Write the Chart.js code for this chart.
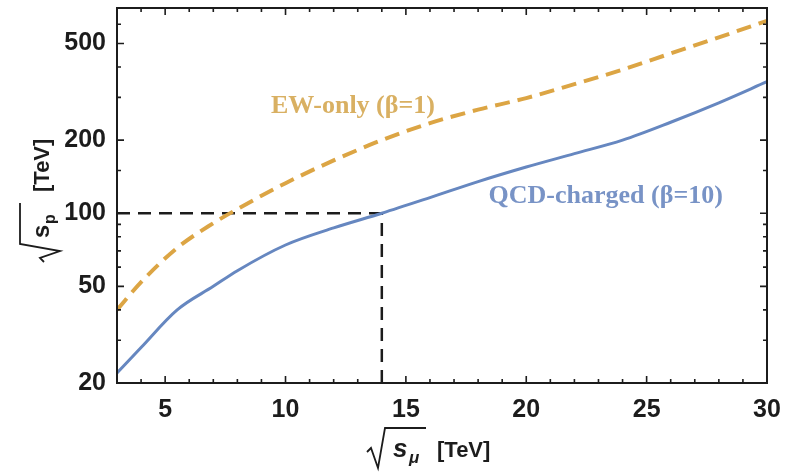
<!DOCTYPE html>
<html>
<head>
<meta charset="utf-8">
<script src="https://cdn.jsdelivr.net/npm/chart.js@4.4.1/dist/chart.umd.min.js"></script>
<style>
  html, body { margin: 0; padding: 0; background: #fff; }
  #wrap { width: 795px; height: 476px; position: relative; }
</style>
</head>
<body>
<div id="wrap"><canvas id="chart"></canvas></div>
<script>
// sqrt(s_p) needed vs sqrt(s_mu) — two curves on a log axis

// ---------- data ----------
const EW_X  = [3, 4, 5.5, 7, 8, 10, 12, 14, 16, 18, 20, 22, 24, 26, 28, 30];
const EW_Y  = [40, 52, 72, 91, 104, 133, 165, 200, 235, 267, 298, 340, 390, 455, 530, 620];

const QCD_X = [3, 4, 5.5, 7, 8, 10, 12, 14, 16, 18, 20, 22, 24, 26, 28, 30];
const QCD_Y = [22, 28, 40, 50, 58, 74, 87, 100, 116, 135, 155, 176, 200, 237, 285, 348];

// the 14 TeV / 100 TeV guide lines
const REF_X = 14;
const REF_Y = 100;

const X_MIN = 3, X_MAX = 30;
const Y_MIN = 20, Y_MAX = 700;

const X_TICKS       = [5, 10, 15, 20, 25, 30];
const X_MINOR       = [4, 6, 7, 8, 9, 11, 12, 13, 14, 16, 17, 18, 19, 21, 22, 23, 24, 26, 27, 28, 29];
const Y_TICKS       = [20, 50, 100, 200, 500];
const Y_MINOR       = [30, 40, 60, 70, 80, 90, 150, 300, 400, 600, 700];

const LABELS     = ["EW-only (β=1)", "QCD-charged (β=10)"];
const LABEL_AT_X = [12.8, 23.3];
const LABEL_AT_Y = [276, 117];

// ---------- style ----------
const SANS  = "'Liberation Sans', Arial, sans-serif";
const SERIF = "'Liberation Serif', 'Times New Roman', serif";
const ORANGE = "#dca544";
const BLUE   = "#6687c0";
const INK    = "#1c1c1c";

const pts = (xs, ys) => xs.map((x, i) => ({ x, y: ys[i] }));

// frame with inward ticks (Mathematica style), annotations, axis titles
const decor = {
  id: "decor",
  afterDatasetsDraw(chart) {
    const { ctx, chartArea: a, scales: { x, y } } = chart;
    ctx.save();

    ctx.strokeStyle = INK;
    ctx.lineWidth = 1.6;
    ctx.beginPath();
    const xt = (v, len) => {
      const p = x.getPixelForValue(v);
      ctx.moveTo(p, a.bottom); ctx.lineTo(p, a.bottom - len);
      ctx.moveTo(p, a.top);    ctx.lineTo(p, a.top + len);
    };
    const yt = (v, len) => {
      const p = y.getPixelForValue(v);
      ctx.moveTo(a.left, p);  ctx.lineTo(a.left + len, p);
      ctx.moveTo(a.right, p); ctx.lineTo(a.right - len, p);
    };
    X_TICKS.forEach(v => xt(v, 7));
    X_MINOR.forEach(v => xt(v, 4));
    Y_TICKS.forEach(v => yt(v, 7));
    Y_MINOR.forEach(v => yt(v, 4));
    ctx.stroke();

    ctx.lineWidth = 2;
    ctx.strokeRect(a.left, a.top, a.right - a.left, a.bottom - a.top);

    // curve labels
    ctx.font = `bold 26px ${SERIF}`;
    ctx.textAlign = "center";
    ctx.textBaseline = "middle";
    ctx.fillStyle = "#d9b062";
    ctx.fillText(LABELS[0], x.getPixelForValue(LABEL_AT_X[0]), y.getPixelForValue(LABEL_AT_Y[0]));
    ctx.fillStyle = "#7893c6";
    ctx.fillText(LABELS[1], x.getPixelForValue(LABEL_AT_X[1]), y.getPixelForValue(LABEL_AT_Y[1]));

    // axis titles: sqrt(s_mu) [TeV]  and  sqrt(s_p) [TeV]
    const radical = (u0, base) => {
      ctx.beginPath();
      ctx.moveTo(u0, base - 5);
      ctx.lineTo(u0 + 4, base - 9);
      ctx.lineTo(u0 + 11, base + 11);
      ctx.lineTo(u0 + 18, base - 29);
      ctx.lineTo(u0 + 59, base - 29);
      ctx.lineWidth = 1.8;
      ctx.stroke();
    };
    ctx.fillStyle = INK;
    ctx.textAlign = "left";
    ctx.textBaseline = "alphabetic";

    // x title
    const cx = (a.left + a.right) / 2;
    const xb = 457;
    const x0 = cx - 75;
    radical(x0, xb);
    ctx.font = `italic bold 26px ${SANS}`;
    ctx.fillText("s", x0 + 26, xb);
    ctx.font = `italic bold 17px ${SANS}`;
    ctx.fillText("μ", x0 + 42, xb + 6);
    ctx.font = `bold 22px ${SANS}`;
    ctx.fillText("[TeV]", x0 + 70, xb);

    // y title, rotated
    ctx.translate(45, 262);
    ctx.rotate(-Math.PI / 2);
    radical(0, 4);
    ctx.font = `bold 24px ${SANS}`;
    ctx.fillText("s", 24, 4);
    ctx.font = `bold 16px ${SANS}`;
    ctx.fillText("p", 38, 10);
    ctx.font = `bold 22px ${SANS}`;
    ctx.fillText("[TeV]", 70, 4);

    ctx.restore();
  }
};

const tickFont = { family: SANS, size: 25, weight: "bold" };

new Chart(document.getElementById("chart"), {
  type: "line",
  data: {
    datasets: [
      {
        label: "QCD-charged (β=10)",
        data: pts(QCD_X, QCD_Y),
        borderColor: BLUE,
        borderWidth: 3,
        pointRadius: 0,
        cubicInterpolationMode: "monotone",
        order: 1,
      },
      {
        label: "EW-only (β=1)",
        data: pts(EW_X, EW_Y),
        borderColor: ORANGE,
        borderWidth: 4,
        borderDash: [15, 8],
        pointRadius: 0,
        cubicInterpolationMode: "monotone",
        order: 2,
      },
      {
        label: "guide h",
        data: [{ x: X_MIN, y: REF_Y }, { x: REF_X, y: REF_Y }],
        borderColor: INK,
        borderWidth: 2.5,
        borderDash: [13, 8],
        pointRadius: 0,
        order: 3,
      },
      {
        label: "guide v",
        data: [{ x: REF_X, y: Y_MIN }, { x: REF_X, y: REF_Y }],
        borderColor: INK,
        borderWidth: 2.5,
        borderDash: [13, 8],
        pointRadius: 0,
        order: 3,
      },
    ],
  },
  options: {
    responsive: true,
    maintainAspectRatio: false,
    animation: false,
    layout: { padding: { top: 8, right: 28, left: 0, bottom: 0 } },
    plugins: { legend: { display: false }, tooltip: { enabled: false } },
    scales: {
      x: {
        type: "linear",
        min: X_MIN,
        max: X_MAX,
        afterBuildTicks: s => { s.ticks = X_TICKS.map(value => ({ value })); },
        afterFit: s => { s.height = 93; s.paddingLeft = 0; s.paddingRight = 0; },
        ticks: { color: INK, font: tickFont, padding: 12, maxRotation: 0 },
        grid: { display: false, drawTicks: false },
        border: { display: false },
      },
      y: {
        type: "logarithmic",
        min: Y_MIN,
        max: Y_MAX,
        afterBuildTicks: s => { s.ticks = Y_TICKS.map(value => ({ value })); },
        afterFit: s => { s.width = 117; s.paddingTop = 0; s.paddingBottom = 0; },
        ticks: { color: INK, font: tickFont, padding: 11, callback: v => String(v) },
        grid: { display: false, drawTicks: false },
        border: { display: false },
      },
    },
  },
  plugins: [decor],
});
</script>
</body>
</html>
